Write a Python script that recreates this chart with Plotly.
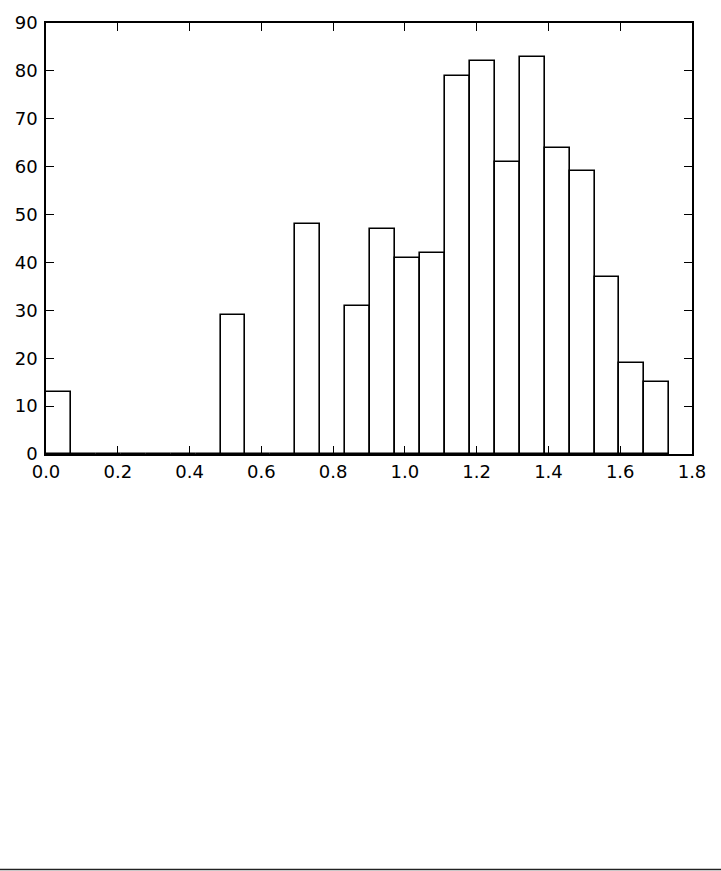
import plotly.graph_objects as go

# Histogram data
bin_start = 0.0
bin_width = 0.06947
counts = [13, 0, 0, 0, 0, 0, 0, 29, 0, 0, 48, 0, 31, 47, 41, 42,
          79, 82, 61, 83, 64, 59, 37, 19, 15]
x_ticks = [0.0, 0.2, 0.4, 0.6, 0.8, 1.0, 1.2, 1.4, 1.6, 1.8]
y_ticks = [0, 10, 20, 30, 40, 50, 60, 70, 80, 90]

centers = [bin_start + (i + 0.5) * bin_width for i in range(len(counts))]

W, H = 721, 871
ml, mr, mt, mb = 46, 29, 23, 417

fig = go.Figure(go.Bar(
    x=centers, y=counts, width=bin_width,
    marker=dict(color="white", line=dict(color="black", width=1.6)),
    hoverinfo="x+y",
))

axis_common = dict(
    showline=True, linecolor="black", linewidth=1.5, mirror="ticks",
    ticks="inside", ticklen=8, tickwidth=1, tickcolor="black",
    showgrid=False, zeroline=False, automargin=False,
    tickfont=dict(family="DejaVu Sans", size=18, color="black"),
)

fig.update_layout(
    width=W, height=H,
    margin=dict(l=ml, r=mr, t=mt, b=mb, pad=0),
    paper_bgcolor="white", plot_bgcolor="white",
    bargap=0, showlegend=False,
    xaxis=dict(range=[0, 1.8], tickvals=x_ticks,
               ticktext=[f"{v:.1f}" for v in x_ticks],
               ticklabelstandoff=1, **axis_common),
    yaxis=dict(range=[0, 90], tickvals=y_ticks,
               ticktext=[str(v) for v in y_ticks],
               ticklabelstandoff=3, **axis_common),
)

pw = W - ml - mr
ph = H - mt - mb
fig.add_shape(type="line", xref="paper", yref="paper",
              x0=-ml / pw, x1=(W - ml) / pw,
              y0=(H - mb - 869.5) / ph, y1=(H - mb - 869.5) / ph,
              line=dict(color="#222222", width=1.5))

fig.write_html("out.html",
               config={"displayModeBar": False},
               post_script="document.body.style.margin='0';"
                           "document.body.style.overflow='hidden';")
